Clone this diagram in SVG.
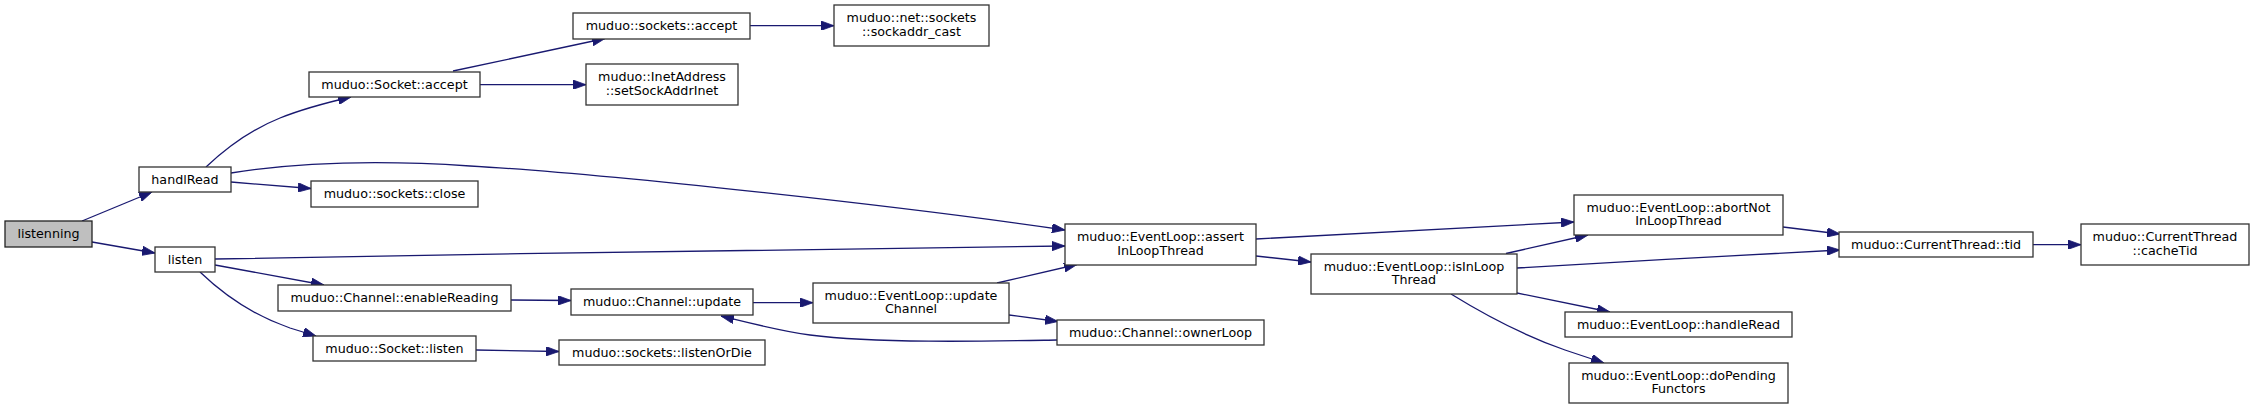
<svg xmlns="http://www.w3.org/2000/svg" width="2255" height="409" viewBox="0 0 2255 409">
<style>
  .n rect { fill: #ffffff; stroke: #333333; stroke-width: 1.3; }
  .n.root rect { fill: #bfbfbf; stroke: #222222; }
  .n text { font-family: "DejaVu Sans", "Liberation Sans", sans-serif; font-size: 12.7px; fill: #000000; text-anchor: middle; }
  .e path { fill: none; stroke: #191970; stroke-width: 1.3; marker-end: url(#arr); }
</style>
<defs>
  <marker id="arr" viewBox="0 0 13 9.4" refX="13" refY="4.7" markerWidth="13" markerHeight="9.4" markerUnits="userSpaceOnUse" orient="auto">
    <path d="M0,0 L13,4.7 L0,9.4 Z" fill="#191970" stroke="#191970" stroke-width="0.8"/>
  </marker>
</defs>
<rect x="0" y="0" width="2255" height="409" fill="#ffffff"/>
<g id="edges" class="e">
  <path d="M82,221 L152,192"/>
  <path d="M92,242 L155,253"/>
  <path d="M206,167 C225,149 250,130 280,118 C300,110 325,103 351,97"/>
  <path d="M231,182 L311,188.5"/>
  <path d="M231,173 C300,162 380,160 470,166 C600,173 900,206 1065,230"/>
  <path d="M215,259 C500,254 900,247 1065,246"/>
  <path d="M215,265 L324,285"/>
  <path d="M200,272 C225,296 255,316 290,328 L316,336"/>
  <path d="M511,300 L571,300.5"/>
  <path d="M476,350 L559,351.5"/>
  <path d="M453,71 L605,38.5"/>
  <path d="M480,84.7 L586,84.7"/>
  <path d="M750,25.7 L834,25.7"/>
  <path d="M753,302.7 L813,302.7"/>
  <path d="M997,283 L1077,264.5"/>
  <path d="M1009,315 L1058,321.5"/>
  <path d="M1057,340 C1000,341 880,344 810,335 C780,331 750,323 721,316"/>
  <path d="M1256,256 L1311,262"/>
  <path d="M1256,239 L1574,222"/>
  <path d="M1506,253.5 L1588,235"/>
  <path d="M1517,268 C1620,262 1740,255 1840,250"/>
  <path d="M1783,227 L1840,234"/>
  <path d="M2033,244.7 L2081,244.7"/>
  <path d="M1517,293 L1610,312"/>
  <path d="M1451,294 C1485,315 1525,336 1565,350 L1604,363"/>
</g>
<g id="node-listenning" class="n root"><rect x="5" y="221" width="87" height="26"/><text x="48.5" y="238">listenning</text></g>
<g id="node-handlRead" class="n"><rect x="139" y="167" width="92" height="25"/><text x="185" y="183.5">handlRead</text></g>
<g id="node-sockets-close" class="n"><rect x="311" y="181" width="167" height="26"/><text x="394.5" y="198">muduo::sockets::close</text></g>
<g id="node-listen" class="n"><rect x="155" y="247" width="60" height="25"/><text x="185" y="263.5">listen</text></g>
<g id="node-enableReading" class="n"><rect x="278" y="285" width="233" height="26"/><text x="394.5" y="302">muduo::Channel::enableReading</text></g>
<g id="node-Socket-listen" class="n"><rect x="313" y="336" width="163" height="25"/><text x="394.5" y="352.5">muduo::Socket::listen</text></g>
<g id="node-Socket-accept" class="n"><rect x="309" y="72" width="171" height="25"/><text x="394.5" y="88.5">muduo::Socket::accept</text></g>
<g id="node-sockets-accept" class="n"><rect x="573" y="13" width="177" height="26"/><text x="661.5" y="30">muduo::sockets::accept</text></g>
<g id="node-setSockAddrInet" class="n"><rect x="586" y="64" width="152" height="41"/><text x="662" y="81">muduo::InetAddress</text><text x="662" y="94.5">::setSockAddrInet</text></g>
<g id="node-sockaddr_cast" class="n"><rect x="834" y="5" width="155" height="41"/><text x="911.5" y="22">muduo::net::sockets</text><text x="911.5" y="35.5">::sockaddr_cast</text></g>
<g id="node-Channel-update" class="n"><rect x="571" y="289" width="182" height="26"/><text x="662" y="306">muduo::Channel::update</text></g>
<g id="node-listenOrDie" class="n"><rect x="559" y="340" width="206" height="25"/><text x="662" y="356.5">muduo::sockets::listenOrDie</text></g>
<g id="node-updateChannel" class="n"><rect x="813" y="283" width="196" height="40"/><text x="911" y="299.5">muduo::EventLoop::update</text><text x="911" y="313">Channel</text></g>
<g id="node-assertInLoopThread" class="n"><rect x="1065" y="224" width="191" height="41"/><text x="1160.5" y="241">muduo::EventLoop::assert</text><text x="1160.5" y="254.5">InLoopThread</text></g>
<g id="node-ownerLoop" class="n"><rect x="1057" y="320" width="207" height="25"/><text x="1160.5" y="336.5">muduo::Channel::ownerLoop</text></g>
<g id="node-isInLoopThread" class="n"><rect x="1311" y="254" width="206" height="40"/><text x="1414" y="270.5">muduo::EventLoop::isInLoop</text><text x="1414" y="284">Thread</text></g>
<g id="node-abortNotInLoopThread" class="n"><rect x="1574" y="195" width="209" height="40"/><text x="1678.5" y="211.5">muduo::EventLoop::abortNot</text><text x="1678.5" y="225">InLoopThread</text></g>
<g id="node-EventLoop-handleRead" class="n"><rect x="1565" y="312" width="227" height="25"/><text x="1678.5" y="328.5">muduo::EventLoop::handleRead</text></g>
<g id="node-doPendingFunctors" class="n"><rect x="1569" y="363" width="219" height="40"/><text x="1678.5" y="379.5">muduo::EventLoop::doPending</text><text x="1678.5" y="393">Functors</text></g>
<g id="node-tid" class="n"><rect x="1839" y="232" width="194" height="25"/><text x="1936" y="248.5">muduo::CurrentThread::tid</text></g>
<g id="node-cacheTid" class="n"><rect x="2081" y="224" width="168" height="41"/><text x="2165" y="241">muduo::CurrentThread</text><text x="2165" y="254.5">::cacheTid</text></g>
</svg>
